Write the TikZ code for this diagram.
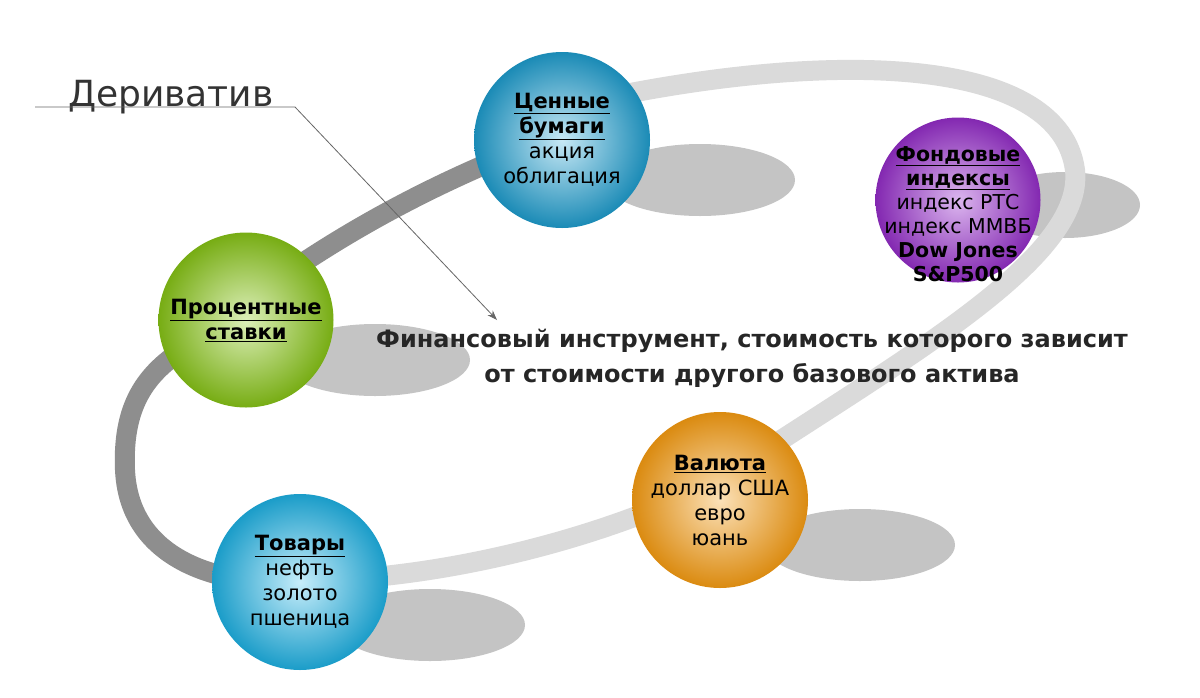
\documentclass[tikz,border=0pt]{standalone}
\usepackage{fontspec}
\setmainfont{DejaVu Sans}
\usetikzlibrary{arrows.meta}
\definecolor{ringd}{HTML}{8E8E8E}
\definecolor{ringl}{HTML}{DADADA}
\definecolor{shad}{HTML}{C4C4C4}
\definecolor{cbc}{HTML}{1FA3D6}
\definecolor{fic}{HTML}{9A2FD0}
\definecolor{psc}{HTML}{8CCB17}
\definecolor{vac}{HTML}{F39A12}
\definecolor{toc}{HTML}{1FB8EC}
\tikzset{
  ball/.style={circle,minimum size=#1,inner sep=0pt,align=center,font=\fontsize{21}{25}\selectfont},
  shadowe/.style={fill=shad},
  ring/.style={line width=20pt,line cap=round},
}
\begin{document}
\begin{tikzpicture}[x=1pt,y=-1pt]
\useasboundingbox (0,0) rectangle (1200,697);
\fill[white] (0,0) rectangle (1200,697);
% shadows
\fill[shadowe] (700,180) ellipse (95 and 36);
\fill[shadowe] (1065,205) ellipse (75 and 33);
\fill[shadowe] (375,360) ellipse (95 and 36);
\fill[shadowe] (860,545) ellipse (95 and 36);
\fill[shadowe] (430,625) ellipse (95 and 36);
% ring
\draw[ring,ringl] (620,95) .. controls (850,50) and (1060,60) .. (1075,170)
  .. controls (1085,260) and (900,360) .. (720,480);
\draw[ring,ringl] (720,480) .. controls (600,540) and (450,575) .. (330,580);
\draw[ring,ringd] (320,580) .. controls (250,590) and (130,575) .. (125,470)
  .. controls (122,400) and (150,370) .. (190,345);
\draw[ring,ringd] (250,300) .. controls (330,240) and (420,190) .. (520,150);
% arrow
\coordinate (l0) at (35,107);
\coordinate (l1) at (295,107);
\coordinate (tip) at (497,320);
\node[anchor=south west,font=\fontsize{36}{40}\selectfont,text=black!80,inner sep=0pt] (der) at (68,114) {Дериватив};
\draw[black!60,line width=0.8pt,-{Stealth[length=10pt,width=7pt]}] (l0) -- (l1) -- (tip);
% balls
\node[ball=176pt,inner color=cbc!25!white,outer color=cbc!85!black] (cb) at (562,140) {\textbf{\underline{Ценные}}\\\textbf{\underline{бумаги}}\\акция\\облигация};
\node[ball=165pt,inner color=fic!35!white,outer color=fic!85!black] (fi) at (958,200) {};
\node[align=center,font=\fontsize{20.5}{24}\selectfont] (fit) at (958,214) {\textbf{\underline{Фондовые}}\\\textbf{\underline{индексы}}\\индекс РТС\\индекс ММВБ\\\textbf{Dow Jones}\\\textbf{S\&P500}};
\node[ball=175pt,inner color=psc!30!white,outer color=psc!85!black] (ps) at (246,320) {\textbf{\underline{Процентные}}\\\textbf{\underline{ставки}}};
\node[ball=176pt,inner color=vac!30!white,outer color=vac!90!black] (va) at (720,500) {\textbf{\underline{Валюта}}\\доллар США\\евро\\юань};
\node[ball=176pt,inner color=toc!25!white,outer color=toc!85!black] (to) at (300,582) {\textbf{\underline{Товары}}\\нефть\\золото\\пшеница};
% definition
\node[align=center,font=\bfseries\fontsize{24}{35}\selectfont,text=black!85] (def) at (752,358) {Финансовый инструмент, стоимость которого зависит\\от стоимости другого базового актива};
\end{tikzpicture}
\end{document}
